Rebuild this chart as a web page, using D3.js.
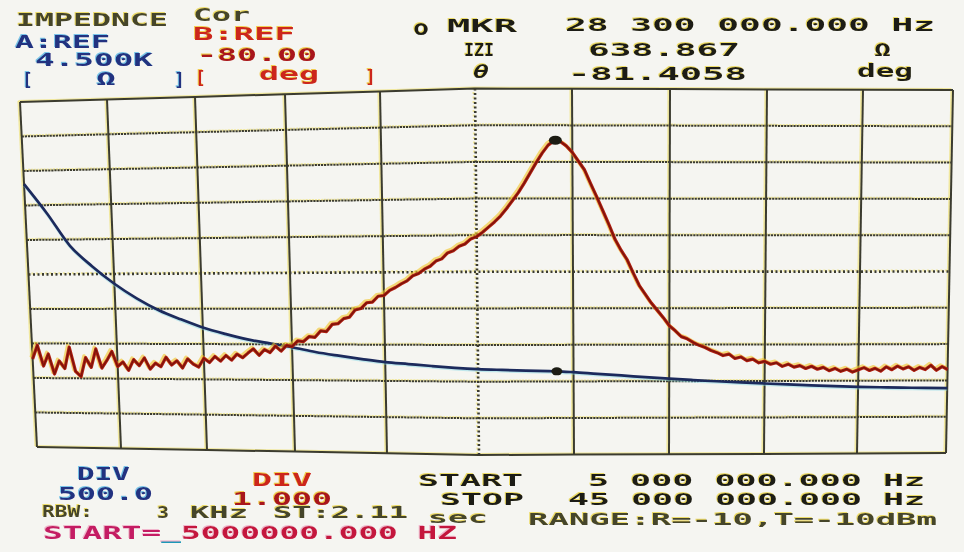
<!DOCTYPE html>
<html>
<head>
<meta charset="utf-8">
<script src="https://cdn.jsdelivr.net/npm/d3@7"></script>
<style>
  html, body { margin: 0; padding: 0; background: #f5f5f1; }
  svg { display: block; }
  text { font-family: "DejaVu Sans Mono", monospace; font-weight: bold; }
</style>
</head>
<body>
<svg id="chart" width="964" height="552"></svg>
<script>
// ---- Sweep and channel settings ----
const sweepStartHz = 5e6;
const sweepStopHz = 45e6;
const divisions = 10;
const zRef = 4500;        // channel A reference, ohms (top line)
const zPerDiv = 500;      // ohms per division
const thetaRef = -80;     // channel B reference, degrees (top line)
const thetaPerDiv = 1;    // degrees per division

// ---- Channel A: |Z| (ohms) ----
const zFreqMHz = [5, 6, 7, 8, 9, 10, 11, 12, 13, 14, 15, 16, 17, 18, 19, 20, 21, 22, 23, 24,
                  25, 26, 27, 28, 28.3, 29, 30, 31, 32, 33, 34, 35, 36, 37, 38, 39, 40, 41, 42, 43, 44, 45];
const zOhms = [3310, 2880, 2410, 2110, 1860, 1650, 1480, 1350, 1235, 1145, 1068, 1012, 960, 895, 845, 800, 760, 735, 710, 688,
               672, 660, 650, 641, 638.867, 626, 602, 580, 556, 534, 515, 498, 482, 466, 452, 439, 427, 417, 409, 403, 398, 394];

// ---- Channel B: phase (deg), 161 sweep points from START to STOP ----
const thetaDeg = [
  -87.45, -87.05, -87.65, -87.30, -87.88, -87.50, -87.72, -87.10, -87.80, -87.95, -87.40, -87.68, -87.15, -87.70, -87.48, -87.22, -87.65, -87.52, -87.76, -87.45,
  -87.62, -87.40, -87.72, -87.55, -87.65, -87.38, -87.60, -87.48, -87.68, -87.42, -87.57, -87.65, -87.40, -87.52, -87.35, -87.48, -87.32, -87.45, -87.28, -87.38,
  -87.25, -87.13, -87.31, -87.15, -87.23, -87.05, -87.19, -87.03, -87.06, -86.90, -86.92, -86.78, -86.80, -86.62, -86.64, -86.44, -86.42, -86.28, -86.24, -86.04,
  -86.00, -85.84, -85.82, -85.66, -85.64, -85.50, -85.42, -85.32, -85.24, -85.10, -85.04, -84.92, -84.84, -84.70, -84.64, -84.48, -84.42, -84.30, -84.24, -84.10,
  -84.04, -83.92, -83.78, -83.64, -83.48, -83.28, -83.06, -82.84, -82.58, -82.30, -82.02, -81.76, -81.54, -81.42, -81.44, -81.56, -81.74, -81.98, -82.22, -82.60,
  -82.96, -83.34, -83.72, -84.12, -84.42, -84.68, -85.04, -85.38, -85.62, -85.86, -86.06, -86.26, -86.48, -86.62, -86.78, -86.84, -86.94, -87.02, -87.08, -87.16,
  -87.22, -87.30, -87.26, -87.38, -87.34, -87.44, -87.40, -87.50, -87.46, -87.54, -87.50, -87.60, -87.54, -87.62, -87.58, -87.66, -87.60, -87.68, -87.63, -87.72,
  -87.66, -87.74, -87.68, -87.76, -87.70, -87.64, -87.72, -87.66, -87.74, -87.62, -87.70, -87.60, -87.68, -87.62, -87.72, -87.64, -87.70, -87.58, -87.72, -87.62,
  -87.70
];

// ---- Marker readout ----
const markerHz = 28.3e6;
const markerZ = 638.867;
const markerTheta = -81.4058;

// ---- Screen frame: where each division line meets the top and bottom edge ----
const frameTopX = [20, 107, 195, 285, 380, 475, 572, 670, 767, 863, 953];
const frameBotX = [37, 121, 207, 295, 387, 479, 574, 669, 764, 857, 946];
const frameTopY = [102, 99.4, 96.9, 94.2, 91.4, 88.6, 88.8, 89.1, 89.4, 89.7, 90];
const frameBotY = [447, 448.5, 450, 451.6, 453.3, 455, 454.6, 454.2, 453.9, 453.5, 453];

const svg = d3.select("#chart");

// Colour fringes (offset halo behind text)
const defs = svg.append("defs");
const fringes = { yel: "#ead54a", cyan: "#5cb8e6", orng: "#f2c22c", pink: "#f0a8c4" };
Object.entries(fringes).forEach(([id, col]) => {
  const f = defs.append("filter").attr("id", "fr-" + id)
    .attr("x", "-10%").attr("y", "-30%").attr("width", "120%").attr("height", "160%");
  f.append("feFlood").attr("flood-color", col).attr("flood-opacity", 0.8);
  f.append("feComposite").attr("in2", "SourceAlpha").attr("operator", "in");
  f.append("feOffset").attr("dx", -1.5).attr("dy", -1).attr("result", "halo");
  const m = f.append("feMerge");
  m.append("feMergeNode").attr("in", "halo");
  m.append("feMergeNode").attr("in", "SourceGraphic");
});

// Value scales -> division units (0..10)
const xDiv = d3.scaleLinear().domain([sweepStartHz, sweepStopHz]).range([0, divisions]);
const zDiv = d3.scaleLinear().domain([zRef, zRef - divisions * zPerDiv]).range([0, divisions]);
const tDiv = d3.scaleLinear().domain([thetaRef, thetaRef - divisions * thetaPerDiv]).range([0, divisions]);

// Division units -> screen pixels
const idx = d3.range(divisions + 1);
const topX = d3.scaleLinear().domain(idx).range(frameTopX);
const botX = d3.scaleLinear().domain(idx).range(frameBotX);
const topY = d3.scaleLinear().domain(idx).range(frameTopY);
const botY = d3.scaleLinear().domain(idx).range(frameBotY);
function project(u, v) {
  const xt = topX(u), xb = botX(u), yt = topY(u), yb = botY(u);
  const k = v / divisions;
  return [xt + (xb - xt) * k, yt + (yb - yt) * k];
}

// ---- Graticule ----
const gridLines = [];
idx.forEach(k => {
  gridLines.push({ kind: "v", k, pts: [project(k, 0), project(k, divisions)] });
  gridLines.push({ kind: "h", k, pts: idx.map(u => project(u, k)) });
});
const gridPath = d3.line();

function gridStyle(sel) {
  sel.attr("d", d => gridPath(d.pts))
     .attr("fill", "none")
     .attr("stroke-dasharray", d => (d.k === 5 ? "2,2.5" : (d.k === 0 || d.k === 10 || d.kind === "v" ? null : "2.2,0.9")));
}
svg.append("g").attr("transform", "translate(-1.6,-1)")
  .selectAll("path").data(gridLines).join("path")
  .call(gridStyle)
  .attr("stroke", "#ecdc5a").attr("stroke-opacity", 0.55).attr("stroke-width", 2);
svg.append("g")
  .selectAll("path").data(gridLines).join("path")
  .call(gridStyle)
  .attr("stroke", "#3b3b2f")
  .attr("stroke-width", d => (d.k === 5 ? 2.6 : 2));

// ---- Traces ----
const zPts = zFreqMHz.map((f, i) => project(xDiv(f * 1e6), zDiv(zOhms[i])));
const nTheta = thetaDeg.length;
const thetaHz = d3.range(nTheta).map(i => sweepStartHz + i * (sweepStopHz - sweepStartHz) / (nTheta - 1));
const tPts = thetaDeg.map((t, i) => project(xDiv(thetaHz[i]), tDiv(t)));

// |Z| trace
const zLine = d3.line().x(p => p[0]).y(p => p[1]).curve(d3.curveMonotoneX);
svg.append("path").attr("d", zLine(zPts))
  .attr("transform", "translate(0,1.6)")
  .attr("fill", "none").attr("stroke", "#7fd6e6").attr("stroke-opacity", 0.45).attr("stroke-width", 2);
svg.append("path").attr("d", zLine(zPts))
  .attr("fill", "none").attr("stroke", "#1c2a5c").attr("stroke-width", 2.7)
  .attr("stroke-linejoin", "round");

// phase trace
const phaseLine = d3.line().x(p => p[0]).y(p => p[1]).curve(d3.curveLinear);
svg.append("path").attr("d", phaseLine(tPts))
  .attr("transform", "translate(-1.6,-1.6)")
  .attr("fill", "none").attr("stroke", "#f2c426").attr("stroke-opacity", 0.6).attr("stroke-width", 3.5)
  .attr("stroke-linejoin", "round");
svg.append("path").attr("d", phaseLine(tPts))
  .attr("fill", "none").attr("stroke", "#b01e12").attr("stroke-width", 3.2)
  .attr("stroke-linejoin", "round");
svg.append("path").attr("d", phaseLine(tPts))
  .attr("fill", "none").attr("stroke", "#7a140a").attr("stroke-width", 1.3)
  .attr("stroke-linejoin", "round");

// marker dots
const mT = project(xDiv(markerHz), tDiv(markerTheta));
const mZ = project(xDiv(markerHz), zDiv(markerZ));
svg.append("ellipse").attr("cx", mT[0]).attr("cy", mT[1]).attr("rx", 6.5).attr("ry", 4.5).attr("fill", "#1c1c14");
svg.append("ellipse").attr("cx", mZ[0]).attr("cy", mZ[1]).attr("rx", 5.5).attr("ry", 4).attr("fill", "#1c1c14");

// ---- Readout text ----
function fmtHz(hz) {
  const [ip, fp] = hz.toFixed(3).split(".");
  const groups = [];
  for (let i = ip.length; i > 0; i -= 3) groups.unshift(ip.slice(Math.max(0, i - 3), i));
  return groups.join(" ") + "." + fp;
}
const olive = "#45442c", navy = "#243080", red = "#cc261c", dkred = "#a9181a", ink = "#1e1e14";

const labels = [
  { t: "IMPEDNCE", x: 16, y: 26, w: 152, c: olive, f: "yel" },
  { t: "Cor", x: 193, y: 21, w: 57, c: olive, f: "yel" },
  { t: "A:REF", x: 15, y: 48, w: 95, c: navy, f: "cyan" },
  { t: (zRef / 1000).toFixed(3) + "K", x: 35, y: 66, w: 118, c: navy, f: "cyan" },
  { t: "[", x: 22, y: 86, c: navy, f: "cyan" },
  { t: "\u03a9", x: 96, y: 85, w: 20, c: navy, f: "cyan" },
  { t: "]", x: 174, y: 86, c: navy, f: "cyan" },
  { t: "B:REF", x: 193, y: 40, w: 102, c: red, f: "orng" },
  { t: thetaRef.toFixed(2), x: 197, y: 61, w: 120, c: dkred, f: "orng" },
  { t: "[", x: 195, y: 84, c: red, f: "orng" },
  { t: "deg", x: 259, y: 80, w: 60, c: red, f: "orng" },
  { t: "]", x: 365, y: 83, c: red, f: "orng" },

  { t: "o", x: 413, y: 35, w: 16, c: ink, f: "yel", s: 22 },
  { t: "MKR", x: 447, y: 32, w: 70, c: ink, f: "yel" },
  { t: fmtHz(markerHz) + " Hz", x: 565, y: 31, w: 370, c: ink, f: "yel" },
  { t: "IZI", x: 464, y: 56, w: 30, c: ink, f: "yel" },
  { t: markerZ.toFixed(3), x: 588, y: 56, w: 152, c: ink, f: "yel" },
  { t: "\u03a9", x: 874, y: 56, w: 17, c: ink, f: "yel" },
  { t: "\u03b8", x: 473, y: 78, w: 16, c: ink, f: "yel", it: true },
  { t: markerTheta.toFixed(4), x: 568, y: 80, w: 179, c: ink, f: "yel" },
  { t: "deg", x: 857, y: 77, w: 56, c: ink, f: "yel" },

  { t: "DIV", x: 77, y: 479.5, w: 53, c: navy, f: "cyan", s: 17 },
  { t: zPerDiv.toFixed(1), x: 58, y: 500, w: 95, c: navy, f: "cyan", s: 17 },
  { t: "DIV", x: 252, y: 486, w: 60, c: red, f: "orng" },
  { t: thetaPerDiv.toFixed(3), x: 232, y: 505, w: 100, c: dkred, f: "orng" },
  { t: "START", x: 418, y: 486, w: 105, c: ink, f: "yel", s: 16 },
  { t: fmtHz(sweepStartHz) + " Hz", x: 588, y: 486, w: 337, c: ink, f: "yel", s: 16 },
  { t: "STOP", x: 440, y: 505, w: 84, c: ink, f: "yel", s: 16 },
  { t: fmtHz(sweepStopHz) + " Hz", x: 568, y: 505, w: 357, c: ink, f: "yel", s: 16 },
  { t: "RBW:", x: 42, y: 517, w: 51, c: olive, f: "yel", s: 16 },
  { t: "3", x: 157, y: 517.5, w: 12, c: olive, f: "yel", s: 16 },
  { t: "KHz", x: 190, y: 517.5, w: 58, c: olive, f: "yel", s: 16 },
  { t: "ST:2.11", x: 273, y: 517.5, w: 135, c: olive, f: "yel", s: 16 },
  { t: "sec", x: 428, y: 523, w: 60, c: olive, f: "yel", s: 15 },
  { t: "RANGE:R=-10,T=-10dBm", x: 528, y: 525, w: 409, c: olive, f: "yel", s: 16 }
];

const tg = svg.append("g");
labels.forEach(d => {
  const t = tg.append("text")
    .attr("x", d.x).attr("y", d.y)
    .attr("font-size", d.s || 18)
    .attr("fill", d.c)
    .attr("filter", "url(#fr-" + d.f + ")")
    .text(d.t);
  if (d.w) t.attr("textLength", d.w).attr("lengthAdjust", "spacingAndGlyphs");
  if (d.it) t.attr("font-style", "italic");
});

// start-frequency entry line (three colours in one line)
const entry = tg.append("text")
  .attr("x", 43).attr("y", 539)
  .attr("font-size", 17)
  .attr("textLength", 414).attr("lengthAdjust", "spacingAndGlyphs")
  .attr("filter", "url(#fr-pink)");
entry.append("tspan").attr("fill", "#c41c64").text("START=");
entry.append("tspan").attr("fill", "#1c98b8").text("_");
entry.append("tspan").attr("fill", "#c4143e").text(sweepStartHz.toFixed(3) + " HZ");
</script>
</body>
</html>
